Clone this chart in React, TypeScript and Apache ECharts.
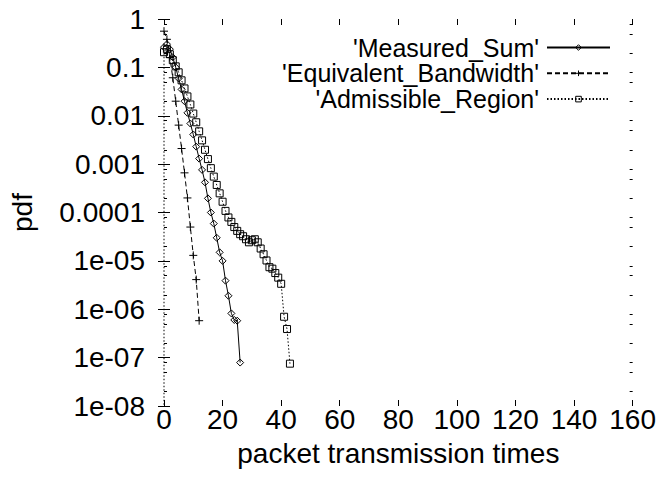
import React, { useEffect, useRef } from "react";
import * as echarts from "echarts";

// ---- data ----
const seriesNames = ["'Measured_Sum'", "'Equivalent_Bandwidth'", "'Admissible_Region'"];

const measuredX = [0, 1, 2, 3, 4, 5, 6, 7, 8, 9, 10, 11, 12, 13, 14, 15, 16, 17, 18, 19, 20, 21, 22, 23, 24, 25, 26];
const measuredY = [
  0.262, 0.302, 0.238, 0.162, 0.1, 0.059, 0.035, 0.02, 0.0115, 0.0069, 0.0041, 0.0023, 0.0013,
  7.6e-4, 4.2e-4, 1.96e-4, 1.0e-4, 5.9e-5, 3.0e-5, 1.5e-5, 1.0e-5, 3.9e-6, 1.9e-6, 8.2e-7, 6.0e-7,
  5.8e-7, 7.9e-8,
];

const equivalentX = [0, 1, 2, 3, 4, 5, 6, 7, 8, 9, 10, 11, 12];
const equivalentY = [0.56, 0.38, 0.16, 0.061, 0.02, 0.0064, 0.0021, 6.6e-4, 2.0e-4, 5.0e-5, 1.3e-5, 4.1e-6, 5.8e-7];

// first point lies below the plotted range (dotted drop along x = 0)
const admissibleX = [
  0, 0, 1, 2, 3, 4, 5, 6, 7, 8, 9, 10, 11, 12, 13, 14, 15, 16, 17, 18, 19, 20, 21, 22, 23, 24, 25,
  26, 27, 28, 29, 30, 31, 32, 33, 34, 35, 36, 37, 38, 39, 40, 41, 42, 43,
];
const admissibleY = [
  1e-10, 0.206, 0.238, 0.187, 0.141, 0.105, 0.079, 0.054, 0.0367, 0.0251, 0.0171, 0.0111, 0.00733,
  0.00476, 0.0031, 0.00198, 0.00127, 8.26e-4, 5.52e-4, 3.71e-4, 2.49e-4, 1.67e-4, 1.08e-4, 7.9e-5,
  6.4e-5, 5.0e-5, 4.17e-5, 3.56e-5, 3.23e-5, 2.8e-5, 2.42e-5, 2.67e-5, 2.8e-5, 2.42e-5, 1.8e-5,
  1.37e-5, 1.02e-5, 7.4e-6, 6.9e-6, 5.6e-6, 4.5e-6, 3.36e-6, 7.0e-7, 3.9e-7, 7.5e-8,
];

const yTickLabels = ["1", "0.1", "0.01", "0.001", "0.0001", "1e-05", "1e-06", "1e-07", "1e-08"];
const minorMantissas = [2, 5, 8];
const decadeExponents = [-8, -7, -6, -5, -4, -3, -2, -1];

const FONT = "'Liberation Sans', Arial, Helvetica, sans-serif";
const FS = 28;
const LEGEND_FS = 25;

function pairs(xs: number[], ys: number[]) {
  return xs.map((x, i) => [x, ys[i]]);
}

export default function App() {
  const ref = useRef<HTMLDivElement>(null);
  useEffect(() => {
    if (!ref.current) return;
    const chart = echarts.init(ref.current, undefined, { renderer: "svg" });

    const minorTicks: number[][] = [];
    decadeExponents.forEach((e) => {
      minorMantissas.forEach((m) => minorTicks.push([0, m * Math.pow(10, e)]));
    });

    const tickStyle = { color: "#000", width: 1 };
    const yLabelFor = (v: number) => {
      const idx = Math.round(-Math.log10(v));
      return yTickLabels[idx] ?? "";
    };

    const hollow = { color: "rgba(0,0,0,0)", borderColor: "#000", borderWidth: 1 };

    const option: any = {
      animation: false,
      backgroundColor: "#fff",
      textStyle: { fontFamily: FONT, color: "#000" },
      grid: { left: 164, right: 26, top: 19, bottom: 72, containLabel: false },
      legend: {
        data: seriesNames,
        orient: "vertical",
        right: 48,
        top: 35,
        align: "right",
        padding: 0,
        itemWidth: 63,
        itemHeight: 7,
        itemGap: 0.8,
        itemStyle: hollow,
        textStyle: { fontSize: LEGEND_FS, fontFamily: FONT, color: "#000", padding: [0, 3, 0, 0] },
      },
      xAxis: [
        {
          type: "value",
          min: 0,
          max: 160,
          interval: 20,
          position: "bottom",
          name: "packet transmission times",
          nameLocation: "middle",
          nameGap: 33,
          nameTextStyle: { fontSize: FS, fontFamily: FONT, color: "#000" },
          axisLine: { show: false },
          axisTick: { show: true, inside: true, length: 6, lineStyle: tickStyle },
          axisLabel: { fontSize: FS, fontFamily: FONT, color: "#000", margin: -1 },
          splitLine: { show: false },
        },
        {
          type: "value",
          min: 0,
          max: 160,
          interval: 20,
          position: "top",
          axisLine: { show: false },
          axisTick: { show: true, inside: true, length: 6, lineStyle: tickStyle },
          axisLabel: { show: false },
          splitLine: { show: false },
        },
      ],
      yAxis: [
        {
          type: "log",
          logBase: 10,
          min: 1e-8,
          max: 1,
          position: "left",
          name: "pdf",
          nameLocation: "middle",
          nameGap: 128,
          nameTextStyle: { fontSize: FS, fontFamily: FONT, color: "#000" },
          axisLine: { show: false },
          axisTick: { show: true, inside: true, length: 6, lineStyle: tickStyle },
          axisLabel: { fontSize: FS, fontFamily: FONT, color: "#000", margin: 19, formatter: yLabelFor },
          splitLine: { show: false },
        },
        {
          type: "log",
          logBase: 10,
          min: 1e-8,
          max: 1,
          position: "right",
          axisLine: { show: false },
          axisTick: { show: true, inside: true, length: 6, lineStyle: tickStyle },
          axisLabel: { show: false },
          splitLine: { show: false },
        },
      ],
      series: [
        {
          name: seriesNames[0],
          type: "line",
          data: pairs(measuredX, measuredY),
          symbol: "diamond",
          symbolSize: 7,
          lineStyle: { color: "#000", width: 1, type: "solid" },
          itemStyle: hollow,
          clip: true,
          z: 3,
        },
        {
          name: seriesNames[1],
          type: "line",
          data: pairs(equivalentX, equivalentY),
          symbol: "path://M0,5L10,5M5,0L5,10",
          symbolSize: 8,
          lineStyle: { color: "#000", width: 1, type: [5, 3] },
          itemStyle: hollow,
          clip: true,
          z: 3,
        },
        {
          name: seriesNames[2],
          type: "line",
          data: pairs(admissibleX, admissibleY),
          symbol: "rect",
          symbolSize: 7,
          lineStyle: { color: "#000", width: 1, type: [1.5, 2] },
          itemStyle: hollow,
          clip: true,
          z: 3,
        },
        {
          name: "minorTicks",
          type: "custom",
          silent: true,
          data: minorTicks,
          renderItem: (_params: any, api: any) => {
            const v = api.value(1);
            const l = api.coord([0, v]);
            const r = api.coord([160, v]);
            const y = Math.round(l[1]) + 0.5;
            return {
              type: "group",
              children: [
                { type: "line", shape: { x1: l[0], y1: y, x2: l[0] + 3, y2: y }, style: { stroke: "#000", lineWidth: 1 } },
                { type: "line", shape: { x1: r[0] - 3, y1: y, x2: r[0], y2: y }, style: { stroke: "#000", lineWidth: 1 } },
              ],
            };
          },
          z: 2,
        },
      ],
    };
    chart.setOption(option);
    return () => chart.dispose();
  }, []);
  return <div ref={ref} style={{ width: 659, height: 478, position: "absolute", left: 0, top: 0 }} />;
}
